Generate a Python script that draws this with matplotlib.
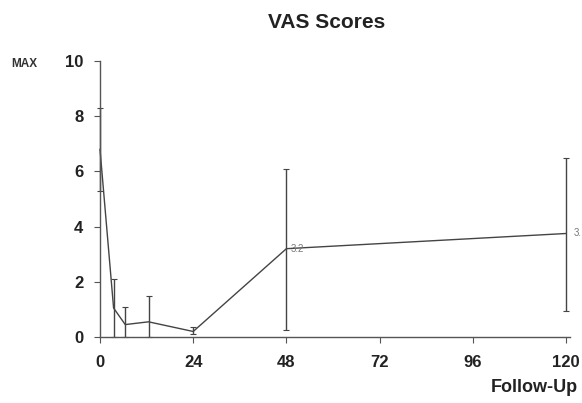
import matplotlib
matplotlib.use("Agg")
import matplotlib.pyplot as plt

months = [0, 3.5, 6.5, 12.5, 24, 48, 120]
vas_mean = [6.8, 1.05, 0.45, 0.55, 0.2, 3.2, 3.75]
err_low = [1.5, 1.05, 0.45, 0.55, 0.1, 2.95, 2.8]
err_high = [1.5, 1.05, 0.65, 0.95, 0.15, 2.9, 2.75]
xticks = [0, 24, 48, 72, 96, 120]
yticks = [0, 2, 4, 6, 8, 10]

plt.rcParams['font.family'] = ['Liberation Sans', 'DejaVu Sans']

fig = plt.figure(figsize=(5.82, 4.03), dpi=100)
ax = fig.add_axes([100/582, 1-337/403, 466/582, 276/403])

ax.errorbar(months, vas_mean, yerr=[err_low, err_high], color='#444444', lw=1.0,
            elinewidth=1.0, capsize=2, capthick=0.8, ecolor='#444444', clip_on=False)

ax.text(48 + 1.2, 3.2, '3.2', fontsize=7, color='#777777', va='center', ha='left')
ax.text(120 + 2, 3.75, '3.', fontsize=7, color='#777777', va='center', ha='left')

ax.set_xlim(0, 120)
ax.set_ylim(0, 10)
ax.set_xticks(xticks)
ax.set_yticks(yticks)
ax.tick_params(axis='both', labelsize=12, length=4, width=0.8, color='#555555')
for lab in ax.get_xticklabels() + ax.get_yticklabels():
    lab.set_fontweight('bold')
    lab.set_color('#222222')
ax.tick_params(axis='y', pad=8)
ax.tick_params(axis='x', pad=9)
for s in ['top', 'right']:
    ax.spines[s].set_visible(False)
for s in ['left', 'bottom']:
    ax.spines[s].set_color('#555555')
    ax.spines[s].set_linewidth(1.0)
ax.spines['bottom'].set_bounds(0, 121)

fig.text(327/582, 1 - 23/403, 'VAS Scores', ha='center', va='center',
         fontsize=15, fontweight='bold', color='#222222')
fig.text(11/582, 1 - 64/403, 'MAX', ha='left', va='center', fontsize=8.5,
         fontweight='bold', color='#333333')
fig.text(578/582, 1 - 387/403, 'Follow-Up', ha='right', va='center',
         fontsize=13, fontweight='bold', color='#222222')

fig.savefig('out.png', dpi=100)
